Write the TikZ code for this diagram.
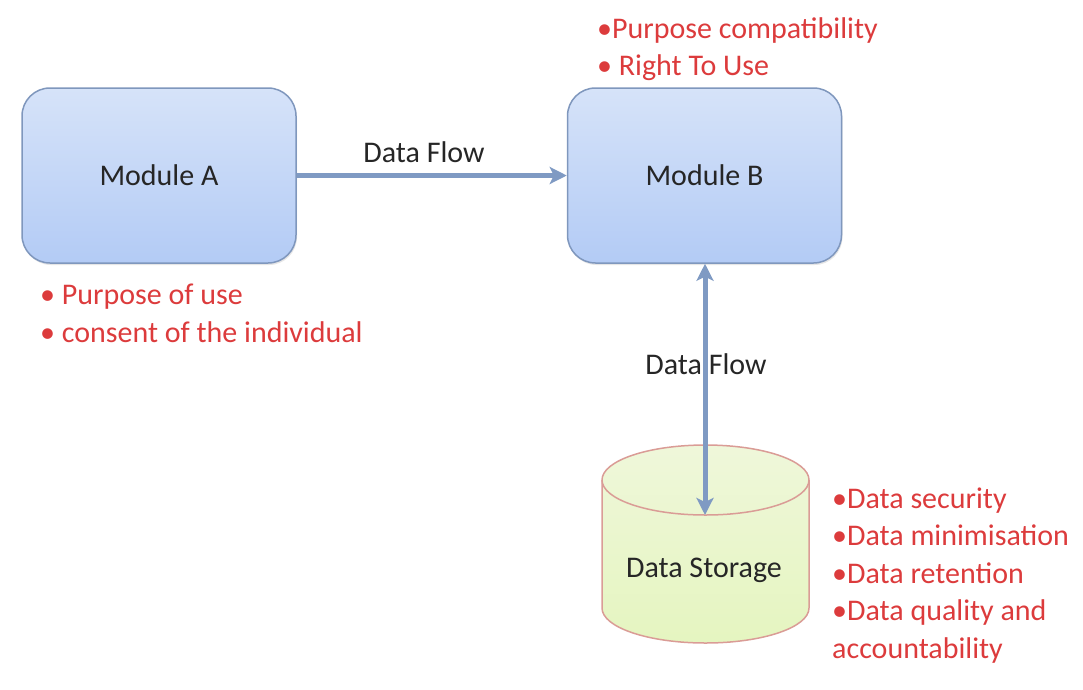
\documentclass[tikz,border=0pt]{standalone}
\usepackage{fontspec}
\setmainfont{Carlito}
\usetikzlibrary{arrows.meta,shadows}
\definecolor{boxtop}{HTML}{D6E3F9}
\definecolor{boxbot}{HTML}{B3CBF5}
\definecolor{boxline}{HTML}{7F97BD}
\definecolor{flow}{HTML}{7F9AC3}
\definecolor{storetop}{HTML}{EFF7DA}
\definecolor{storebot}{HTML}{E5F5C0}
\definecolor{storeline}{HTML}{DA9C96}
\definecolor{note}{HTML}{DC3B3C}
\definecolor{ink}{HTML}{262626}
\begin{document}
\begin{tikzpicture}[x=1pt, y=-1pt,
    module/.style = {draw=boxline, line width=1.5pt, rounded corners=28pt,
        top color=boxtop, bottom color=boxbot, minimum width=274pt, minimum height=175pt,
        font=\fontsize{30}{36}\selectfont, text=ink,
        drop shadow={opacity=0.2, shadow xshift=1pt, shadow yshift=-2pt}},
    label/.style = {font=\fontsize{30}{36}\selectfont, text=ink},
    notes/.style = {font=\fontsize{30}{36}\selectfont, text=note, anchor=base west, inner sep=0pt},
    flowline/.style = {draw=flow, line width=5pt, {Stealth[length=17pt,width=17pt,inset=4pt]}-{Stealth[length=17pt,width=17pt,inset=4pt]}},
    flowto/.style = {draw=flow, line width=5pt, -{Stealth[length=17pt,width=17pt,inset=4pt]}}]
  \useasboundingbox (0,0) rectangle (1083,689);
  % modules
  \node[module] (a) at (159,175.5) {Module A};
  \node[module] (b) at (704.5,175.5) {Module B};
  % storage cylinder
  \shade[top color=storetop, bottom color=storebot, draw=storeline, line width=1.5pt]
    (602,480) -- (602,608) arc[start angle=180, end angle=360, x radius=103.5pt, y radius=35pt]
    -- (809,480) arc[start angle=0, end angle=180, x radius=103.5pt, y radius=35pt] -- cycle;
  \draw[storeline, line width=1.5pt]
    (602,480) arc[start angle=180, end angle=360, x radius=103.5pt, y radius=35pt];
  \node[label] (store) at (704,570) {Data Storage};
  \coordinate (disk) at (705,515);
  % flows
  \node[label] (f1) at (424,152) {Data Flow};
  \node[label] (f2) at (706,364) {Data Flow};
  \draw[flowto] (a.east) -- (b.west);
  \draw[flowline] (b.south -| disk) -- (disk);
  % notes
  \node[notes] (n1) at (597,38) {•Purpose compatibility};
  \node[notes] (n2) at (597,75) {• Right To Use};
  \node[notes] (n3) at (40,304) {• Purpose of use};
  \node[notes] (n4) at (40,342) {• consent of the individual};
  \node[notes] (n5) at (832,508) {•Data security};
  \node[notes] (n6) at (832,545.5) {•Data minimisation};
  \node[notes] (n7) at (832,583) {•Data retention};
  \node[notes] (n8) at (832,620.5) {•Data quality and};
  \node[notes] (n9) at (832,658) {accountability};
\end{tikzpicture}
\end{document}
